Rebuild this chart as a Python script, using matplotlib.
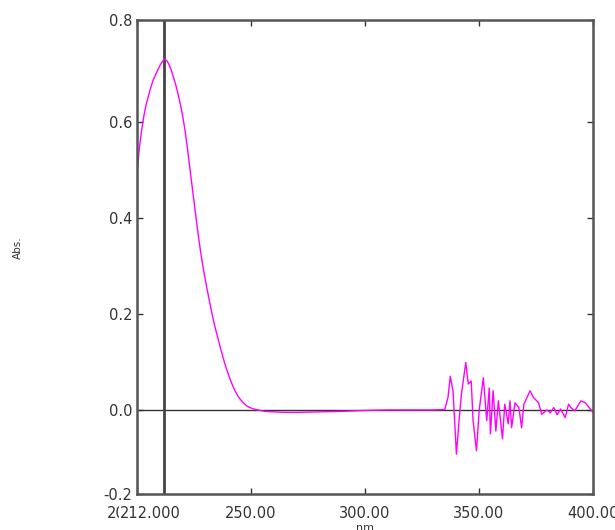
import numpy as np
import matplotlib
matplotlib.use("Agg")
import matplotlib.pyplot as plt

# smooth absorption band (nm, Abs.)
band_nm = [200, 201, 202, 203, 204, 205, 206, 207, 208, 209, 210, 211, 212,
           213, 214, 215, 216, 217, 218, 219, 220, 221, 222, 223, 224, 225,
           226, 227, 228, 229, 230, 231, 232, 233, 234, 235, 236, 237, 238,
           239, 240, 241, 242, 243, 244, 245, 246, 247, 248, 249, 250, 252,
           254, 256, 260, 265, 270, 280, 290, 300, 310, 320, 330, 335]
band_abs = [0.49, 0.545, 0.582, 0.612, 0.636, 0.654, 0.671, 0.686, 0.697, 0.707,
            0.717, 0.725, 0.731, 0.728, 0.72, 0.708, 0.693, 0.677, 0.658, 0.637,
            0.613, 0.584, 0.549, 0.51, 0.472, 0.434, 0.396, 0.359, 0.326, 0.296,
            0.27, 0.245, 0.221, 0.198, 0.177, 0.158, 0.14, 0.122, 0.105, 0.089,
            0.075, 0.062, 0.05, 0.04, 0.031, 0.024, 0.018, 0.013, 0.009, 0.006,
            0.004, 0.001, -0.001, -0.003, -0.004, -0.005, -0.005, -0.004,
            -0.003, -0.001, 0.0, 0.0, 0.0, 0.001]

# noisy tail
noise_nm = [336.4, 337.4, 338.6, 340.1, 341.3, 342.3, 344.2, 345.3, 346.6,
            347.4, 348.9, 350.1, 351.9, 353.4, 354.5, 355.0, 356.2, 357.4,
            358.5, 360.3, 361.3, 362.8, 363.6, 364.3, 365.8, 367.5, 368.7,
            369.7, 372.4, 373.9, 376.1, 377.5, 379.8, 381.3, 382.8, 384.3,
            385.8, 387.8, 389.3, 390.5, 392.0, 394.7, 396.6, 398.5, 400.0]
noise_abs = [0.026, 0.07, 0.04, -0.092, -0.02, 0.033, 0.099, 0.054, 0.06,
             -0.022, -0.085, 0.0, 0.067, -0.022, 0.046, -0.05, 0.04, -0.044,
             0.019, -0.06, 0.012, -0.029, 0.019, -0.037, 0.015, 0.005, -0.037,
             0.012, 0.04, 0.026, 0.015, -0.009, 0.0, -0.006, 0.005, -0.01,
             0.002, -0.016, 0.012, 0.004, -0.002, 0.019, 0.015, 0.004, -0.005]

peak_nm = 212.0
peak_label = "212.000"
x_ticks = [200, 250, 300, 350, 400]
x_labels = ["200.000", "250.00", "300.00", "350.00", "400.00"]
y_ticks = [-0.175, 0.0, 0.2, 0.4, 0.6, 0.8125]
y_labels = ["-0.2", "0.0", "0.2", "0.4", "0.6", "0.8"]

nm = np.array(band_nm + noise_nm)
absorb = np.array(band_abs + noise_abs)

fig = plt.figure(figsize=(6.15, 5.3), dpi=100)
ax = fig.add_axes([0.2228, 0.068, 0.7414, 0.8945])

ax.axhline(0.0, color="#333333", lw=1.0, zorder=1)
ax.axvline(peak_nm, color="#444444", lw=2.0, zorder=1)
ax.plot(nm, absorb, color="#ff00ff", lw=1.0, zorder=2)

ax.set_xlim(200, 400)
ax.set_ylim(-0.175, 0.8125)

grey = "#555555"
for s in ax.spines.values():
    s.set_color(grey)
    s.set_linewidth(1.8)

fs = 10.5
ax.set_xticks(x_ticks)
ax.set_xticklabels(x_labels)
ax.set_yticks(y_ticks)
ax.set_yticklabels(y_labels)
ax.tick_params(direction="in", length=4, width=1, color="#333333",
               top=True, right=True, labelsize=fs, labelcolor="#333333")
ax.tick_params(axis="x", pad=9)
ax.tick_params(axis="y", pad=3.5)

# label of the marked peak, drawn over the 200 label like the original
ax.annotate(peak_label, xy=(192.5, 0), xycoords=("data", "axes fraction"),
            xytext=(0, -9), textcoords="offset points", ha="left", va="top",
            fontsize=fs, color="#333333", annotation_clip=False, zorder=5,
            bbox=dict(facecolor="white", edgecolor="none", pad=0.3))

ax.set_xlabel("nm", fontsize=8, color="#333333", labelpad=1)
ax.set_ylabel("Abs.", fontsize=7.5, color="#333333")
ax.yaxis.set_label_coords(-0.25, 0.52)

fig.savefig("out.png", dpi=100)
